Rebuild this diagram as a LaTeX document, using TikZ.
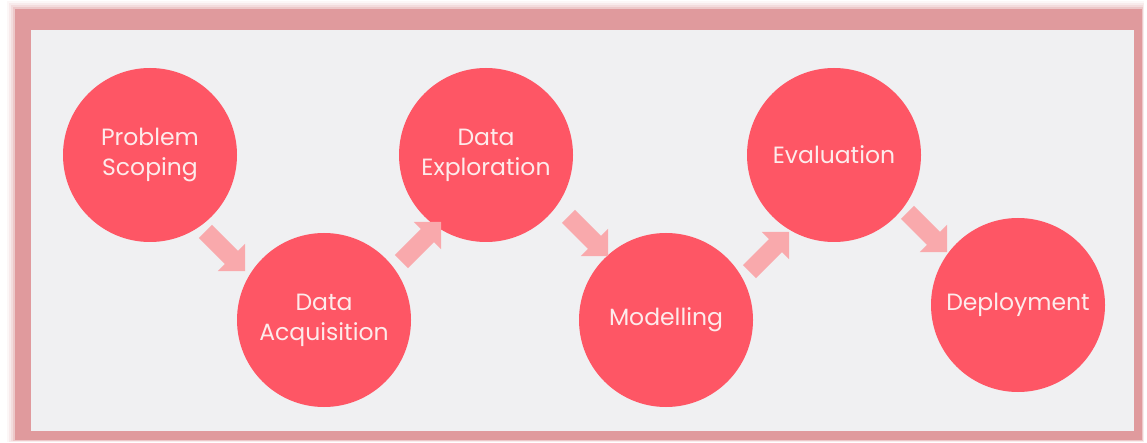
\documentclass[tikz,border=0pt]{standalone}
\usepackage{fontspec}
\setmainfont{Poppins}
\usetikzlibrary{shapes.arrows}
\definecolor{circ}{HTML}{FE5665}
\definecolor{arr}{HTML}{F9A9AC}
\definecolor{bgray}{HTML}{F0F0F2}
\definecolor{frame}{HTML}{E09A9D}
\definecolor{txt}{HTML}{FDEBEB}
\tikzset{
  stage/.style={circle, fill=circ, minimum size=174pt, inner sep=0pt, text=txt,
    align=center, font=\fontsize{23.5}{30}\selectfont},
  fatarrow/.style={single arrow, fill=arr, inner xsep=0pt, inner ysep=9pt, text height=0pt, text depth=0pt,
    minimum height=56pt, single arrow head extend=10pt, single arrow tip angle=90}
}
\begin{document}
\begin{tikzpicture}[x=1pt,y=-1pt]
\useasboundingbox (0,0) rectangle (1147,443);
\fill[white] (0,0) rectangle (1147,443);
% glow
\foreach \d/\o in {8/0.08,6/0.12,4/0.18,2/0.3}
  \fill[frame, opacity=\o] (15-\d,9-\d) rectangle (1142+\d*0.3,440+\d*0.3);
\fill[frame] (15,9) rectangle (1142,440);
\fill[bgray] (31,30) rectangle (1134,431);
% stages
\node[stage] (ps) at (150,155) {Problem\\Scoping};
\node[stage] (da) at (324,320) {Data\\Acquisition};
\node[stage] (de) at (486,155) {Data\\Exploration};
\node[stage] (mo) at (666,320) {Modelling};
\node[stage] (ev) at (834,155) {Evaluation};
\node[stage] (dp) at (1018,305) {Deployment};
% arrows
\node[fatarrow, rotate=-45] (a1) at (222,248) {};
\node[fatarrow, rotate=45]  (a2) at (418,245) {};
\node[fatarrow, rotate=-45] (a3) at (585,233) {};
\node[fatarrow, rotate=45]  (a4) at (766,255) {};
\node[fatarrow, rotate=-45] (a5) at (924,229) {};
\end{tikzpicture}
\end{document}
